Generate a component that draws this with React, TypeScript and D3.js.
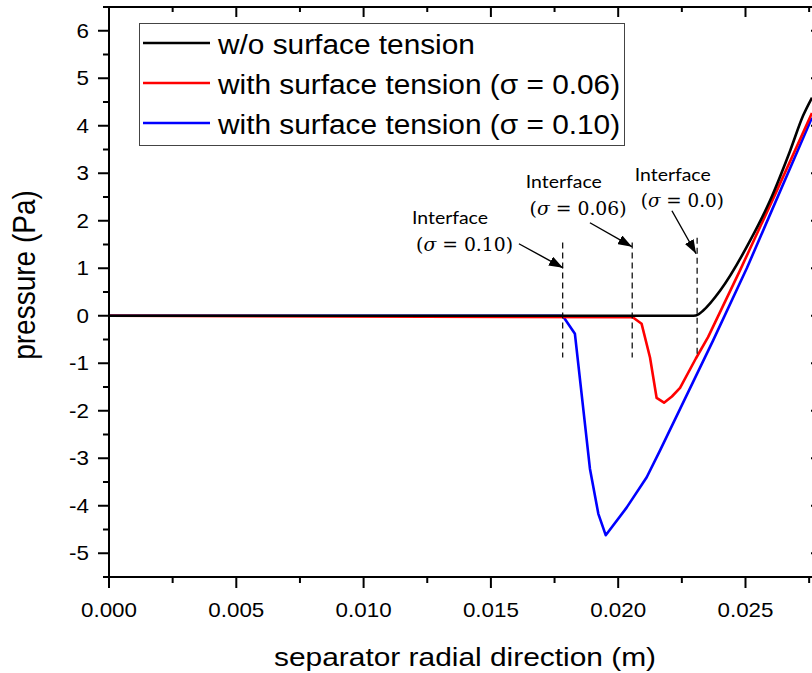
import React from 'react';
import * as d3 from 'd3';

const W = 812;
const H = 673;

// axis ticks
const xMajorTicks = [0, 0.005, 0.01, 0.015, 0.02, 0.025];
const xTickLabels = ['0.000', '0.005', '0.010', '0.015', '0.020', '0.025'];
const xMinorTicks = [0.0025, 0.0075, 0.0125, 0.0175, 0.0225, 0.0275];
const yMajorTicks = [-5, -4, -3, -2, -1, 0, 1, 2, 3, 4, 5, 6];
const yTickLabels = ['-5', '-4', '-3', '-2', '-1', '0', '1', '2', '3', '4', '5', '6'];
const yMinorTicks = [-5.5, -4.5, -3.5, -2.5, -1.5, -0.5, 0.5, 1.5, 2.5, 3.5, 4.5, 5.5, 6.5];

const X_MIN = 0;
const X_MAX = 0.02773;
const Y_MIN = -5.5;
const Y_MAX = 6.5;

// series
const seriesNames = [
  'w/o surface tension',
  'with surface tension (\u03C3 = 0.06)',
  'with surface tension (\u03C3 = 0.10)',
];
const seriesColors = ['#000000', '#ff0000', '#0000ff'];

const blackX = [0, 0.02295, 0.02315, 0.02333, 0.024, 0.02518, 0.02596, 0.02675, 0.02726, 0.02761];
const blackY = [0, 0, 0.03, 0.105, 0.526, 1.58, 2.42, 3.47, 4.21, 4.59];

const redX = [0, 0.02057, 0.02092, 0.02125, 0.02151, 0.0218, 0.02211, 0.02243, 0.02305, 0.02353, 0.02478, 0.02616, 0.02761];
const redY = [0, -0.03, -0.17, -0.88, -1.73, -1.83, -1.7, -1.52, -0.9, -0.45, 0.95, 2.55, 4.27];

const blueX = [0, 0.01782, 0.0183, 0.01889, 0.01922, 0.01951, 0.02033, 0.02112, 0.02164, 0.02372, 0.02506, 0.02761];
const blueY = [0, 0, -0.38, -3.22, -4.17, -4.62, -4.04, -3.4, -2.84, -0.53, 1.01, 4.17];

// interfaces
const interfaceX = [0.01782, 0.02055, 0.0231];
const interfaceTop = [1.54, 1.54, 1.64];
const interfaceBottom = [-0.88, -0.88, -0.88];
const interfaceSigma = ['0.10', '0.06', '0.0'];

// annotation anchors (data coords)
const labelWordX = [0.0119, 0.01637, 0.02065];
const labelWordY = [1.93, 2.69, 2.835];
const labelMathX = [0.01206, 0.01652, 0.02089];
const labelMathY = [1.355, 2.113, 2.282];
const arrowFromX = [0.0161, 0.01889, 0.02211];
const arrowFromY = [1.516, 1.958, 2.21];
const arrowToX = [0.01783, 0.02054, 0.02306];
const arrowToY = [1.01, 1.453, 1.305];

const SANS = '"Liberation Sans", Arial, Helvetica, sans-serif';
const SX = 1.12;

function SText({ x, y, size, anchor = 'start', children, fill = '#000', sx = SX, family = SANS }: any) {
  return (
    <text
      transform={`translate(${x},${y}) scale(${sx},1)`}
      fontSize={size}
      fontFamily={family}
      textAnchor={anchor}
      fill={fill}
    >
      {children}
    </text>
  );
}

export default function App() {
  const x = d3.scaleLinear().domain([X_MIN, X_MAX]).range([109, 815]);
  const y = d3.scaleLinear().domain([Y_MIN, Y_MAX]).range([577, 7]);

  const line = d3
    .line<[number, number]>()
    .x((d) => x(d[0]))
    .y((d) => y(d[1]));
  const smoothLine = d3
    .line<[number, number]>()
    .x((d) => x(d[0]))
    .y((d) => y(d[1]))
    .curve(d3.curveMonotoneX);

  const series = [
    d3.zip(blackX, blackY) as [number, number][],
    d3.zip(redX, redY) as [number, number][],
    d3.zip(blueX, blueY) as [number, number][],
  ];

  const left = x(X_MIN);
  const right = x(X_MAX);
  const top = y(Y_MAX);
  const bottom = y(Y_MIN);

  return (
    <svg
      width={W}
      height={H}
      style={{ position: 'absolute', left: 0, top: 0, background: '#fff' }}
    >
      <defs>
        <clipPath id="plotclip">
          <rect x={left} y={top} width={right - left} height={bottom - top} />
        </clipPath>
        <marker id="arrowhead" viewBox="0 0 14 10" refX="14" refY="5" markerWidth="14" markerHeight="10" markerUnits="userSpaceOnUse" orient="auto">
          <path d="M0,0 L14,5 L0,10 Z" fill="#000" />
        </marker>
      </defs>
      <rect x={0} y={0} width={W} height={H} fill="#fff" />

      {/* curves */}
      <g clipPath="url(#plotclip)">
        {[2, 1, 0].map((i) => (
          <path
            key={i}
            d={(i === 0 ? smoothLine(series[i]) : line(series[i])) || ''}
            fill="none"
            stroke={seriesColors[i]}
            strokeWidth={2.6}
            strokeLinejoin="round"
          />
        ))}
      </g>

      {/* interface dashed lines */}
      {interfaceX.map((v, i) => (
        <line key={'if' + i} x1={x(v)} x2={x(v)} y1={y(interfaceTop[i])} y2={y(interfaceBottom[i])} stroke="#000" strokeWidth={1.2} strokeDasharray="6,4" />
      ))}

      {/* arrows */}
      {arrowFromX.map((v, i) => (
        <line key={'ar' + i} x1={x(v)} y1={y(arrowFromY[i])} x2={x(arrowToX[i])} y2={y(arrowToY[i])} stroke="#000" strokeWidth={1.4} markerEnd="url(#arrowhead)" />
      ))}

      {/* annotation labels */}
      {labelWordX.map((v, i) => (
        <text key={'lw' + i} x={x(v)} y={y(labelWordY[i])} fontSize={17} fontFamily='Lato, "Open Sans", sans-serif' textLength={76} lengthAdjust="spacingAndGlyphs">
          Interface
        </text>
      ))}
      {labelMathX.map((v, i) => (
        <text key={'lm' + i} x={x(v)} y={y(labelMathY[i])} fontSize={19} fontFamily='"DejaVu Serif", "Liberation Serif", serif' textLength={i === 2 ? 83 : 97} lengthAdjust="spacingAndGlyphs">
          (<tspan fontStyle="italic">{'\u03C3'}</tspan> = {interfaceSigma[i]})
        </text>
      ))}

      {/* frame */}
      <line x1={left} x2={right} y1={top} y2={top} stroke="#000" strokeWidth={2} />
      <line x1={right} x2={right} y1={top} y2={bottom} stroke="#000" strokeWidth={2} />
      <line x1={left} x2={left} y1={top - 1} y2={bottom + 1} stroke="#000" strokeWidth={2} />
      <line x1={left - 1} x2={right} y1={bottom} y2={bottom} stroke="#000" strokeWidth={2} />

      {/* bottom & top ticks */}
      {xMajorTicks.map((v, i) => (
        <g key={'xM' + i}>
          <line x1={x(v)} x2={x(v)} y1={bottom} y2={bottom + 11} stroke="#000" strokeWidth={2} />
          <line x1={x(v)} x2={x(v)} y1={top} y2={top + 10} stroke="#000" strokeWidth={2} />
          <SText x={x(v)} y={617} size={20} anchor="middle">{xTickLabels[i]}</SText>
        </g>
      ))}
      {xMinorTicks.map((v, i) => (
        <g key={'xm' + i}>
          <line x1={x(v)} x2={x(v)} y1={bottom} y2={bottom + 6} stroke="#000" strokeWidth={2} />
          <line x1={x(v)} x2={x(v)} y1={top} y2={top + 5} stroke="#000" strokeWidth={2} />
        </g>
      ))}

      {/* left & right ticks */}
      {yMajorTicks.map((v, i) => (
        <g key={'yM' + i}>
          <line x1={left - 11} x2={left} y1={y(v)} y2={y(v)} stroke="#000" strokeWidth={2} />
          <line x1={right - 4} x2={right} y1={y(v)} y2={y(v)} stroke="#000" strokeWidth={2} />
          <SText x={89} y={y(v) + 7} size={20} anchor="end">{yTickLabels[i]}</SText>
        </g>
      ))}
      {yMinorTicks.map((v, i) => (
        <g key={'ym' + i}>
          <line x1={left - 6} x2={left} y1={y(v)} y2={y(v)} stroke="#000" strokeWidth={2} />
          <line x1={right - 3} x2={right} y1={y(v)} y2={y(v)} stroke="#000" strokeWidth={2} />
        </g>
      ))}

      {/* axis titles */}
      <SText x={465} y={666} size={26} anchor="middle" sx={1.15}>separator radial direction (m)</SText>
      <text
        transform={`translate(35,${(top + bottom) / 2 - 17}) rotate(-90) scale(1,${SX})`}
        fontSize={28}
        fontFamily={SANS}
        textAnchor="middle"
      >
        pressure (Pa)
      </text>

      {/* legend */}
      <rect x={139.5} y={23.5} width={485} height={122} fill="#fff" stroke="#444" strokeWidth={1} />
      {seriesNames.map((name, i) => (
        <g key={'lg' + i}>
          <line x1={143} x2={210} y1={43 + i * 40} y2={43 + i * 40} stroke={seriesColors[i]} strokeWidth={2.6} />
          <SText x={218} y={54 + i * 40} size={27} sx={1.105}>{name}</SText>
        </g>
      ))}
    </svg>
  );
}
